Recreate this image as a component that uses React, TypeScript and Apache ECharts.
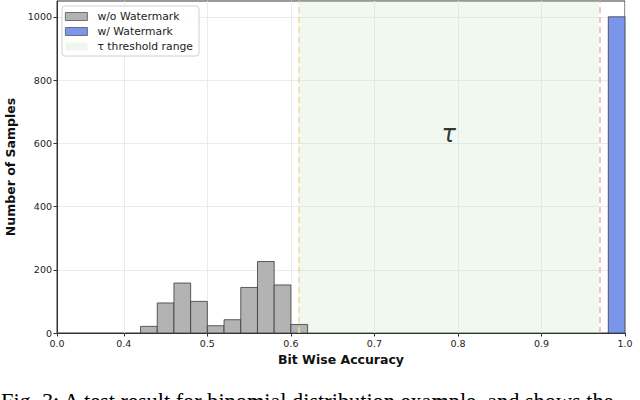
import React, { useEffect, useRef } from "react";
import * as echarts from "echarts";

const binStarts = [0.42, 0.44, 0.46, 0.48, 0.5, 0.52, 0.54, 0.56, 0.58, 0.6];
const binWidth = 0.02;
const woCounts = [21, 95, 158, 100, 23, 42, 144, 226, 152, 27];
const wBinStarts = [0.98];
const wCounts = [1000];
const tauLow = 0.609;
const tauHigh = 0.969;
const xTickValues = [0.32, 0.4, 0.5, 0.6, 0.7, 0.8, 0.9, 1.0];
const xTickLabels = ["0.0", "0.4", "0.5", "0.6", "0.7", "0.8", "0.9", "1.0"];
const yTickValues = [0, 200, 400, 600, 800, 1000];
const tauLabelY = 630;
const caption = "Fig. 3: A test result for binomial distribution example, and shows the";

function histRender(fill: string) {
  return (params: any, api: any) => {
    const x0 = api.value(0);
    const x1 = api.value(1);
    const h = api.value(2);
    const p0 = api.coord([x0, h]);
    const p1 = api.coord([x1, 0]);
    return {
      type: "rect",
      shape: { x: p0[0], y: p0[1], width: p1[0] - p0[0], height: p1[1] - p0[1] },
      style: { fill, stroke: "#3a3a3a", lineWidth: 0.8 },
    };
  };
}

export default function App() {
  const ref = useRef<HTMLDivElement>(null);
  useEffect(() => {
    if (!ref.current) return;
    const chart = echarts.init(ref.current, null, { renderer: "svg" });
    const gray = "#b3b3b3";
    const blue = "#7a96ea";
    const green = "rgba(200,230,200,0.27)";
    const font = "DejaVu Sans";
    chart.setOption({
      animation: false,
      textStyle: { fontFamily: font },
      grid: {
        left: 57,
        right: 15,
        top: 1,
        bottom: 67,
        outerBoundsMode: "none",
        containLabel: false,
        show: true,
        borderColor: "#333",
        borderWidth: 1,
        backgroundColor: "transparent",
      },
      legend: {
        orient: "vertical",
        left: 62,
        top: 6,
        itemWidth: 22,
        itemHeight: 8,
        itemGap: 4,
        padding: [5, 6, 4, 3],
        borderColor: "#d0d0d0",
        borderWidth: 1,
        borderRadius: 3,
        backgroundColor: "rgba(255,255,255,0.85)",
        textStyle: { fontFamily: font, fontSize: 10.8, color: "#222", padding: [0, 0, 0, 5] },
        data: [
          { name: "w/o Watermark", icon: "rect", itemStyle: { color: gray, borderColor: "#555", borderWidth: 0.8 } },
          { name: "w/ Watermark", icon: "rect", itemStyle: { color: blue, borderColor: "#555", borderWidth: 0.8 } },
          { name: "τ threshold range", icon: "rect", itemStyle: { color: "#eef7ee", borderWidth: 0 } },
        ],
      },
      xAxis: {
        type: "value",
        min: 0.32,
        max: 1.0,
        name: "Bit Wise Accuracy",
        nameLocation: "middle",
        nameGap: 19,
        nameTextStyle: { fontFamily: font, fontSize: 12.5, fontWeight: "bold", color: "#111" },
        axisLine: { show: true, onZero: false, lineStyle: { color: "#333", width: 1 } },
        axisTick: { show: true, length: 3.5, customValues: xTickValues, lineStyle: { color: "#333" } },
        axisLabel: {
          customValues: xTickValues,
          fontSize: 9.5,
          color: "#222",
          margin: 5,
          formatter: (v: number) => {
            const i = xTickValues.findIndex((t) => Math.abs(t - v) < 1e-6);
            return i >= 0 ? xTickLabels[i] : "";
          },
        },
        splitLine: { show: true, lineStyle: { color: "#ebebeb", width: 1 } },
      },
      yAxis: {
        type: "value",
        min: 0,
        max: 1050,
        name: "Number of Samples",
        nameLocation: "middle",
        nameGap: 31,
        nameTextStyle: { fontFamily: font, fontSize: 12.5, fontWeight: "bold", color: "#111" },
        axisLine: { show: true, lineStyle: { color: "#333", width: 1 } },
        axisTick: { show: true, length: 3.5, customValues: yTickValues, lineStyle: { color: "#333" } },
        axisLabel: {
          customValues: yTickValues,
          fontSize: 9.5,
          color: "#222",
          margin: 5,
          formatter: (v: number) => String(v),
        },
        splitLine: { show: true, lineStyle: { color: "#ebebeb", width: 1 } },
      },
      series: [
        {
          name: "τ threshold range",
          type: "line",
          data: [],
          itemStyle: { color: "#eef7ee" },
          markArea: {
            silent: true,
            itemStyle: { color: green },
            data: [[{ xAxis: tauLow }, { xAxis: tauHigh }]],
          },
          markLine: {
            silent: true,
            symbol: "none",
            label: { show: false },
            data: [
              { xAxis: tauLow, lineStyle: { color: "#f3d9a6", type: [6, 4], width: 1.6 } },
              { xAxis: tauHigh, lineStyle: { color: "#f2b3b3", type: [6, 4], width: 1.6 } },
            ],
          },
        },
        {
          name: "w/o Watermark",
          type: "custom",
          renderItem: histRender(gray),
          itemStyle: { color: gray },
          encode: { x: [0, 1], y: 2 },
          data: binStarts.map((s, i) => [s, +(s + binWidth).toFixed(2), woCounts[i]]),
          z: 3,
        },
        {
          name: "w/ Watermark",
          type: "custom",
          renderItem: histRender(blue),
          itemStyle: { color: blue },
          encode: { x: [0, 1], y: 2 },
          data: wBinStarts.map((s, i) => [s, +(s + binWidth).toFixed(2), wCounts[i]]),
          z: 3,
        },
        {
          name: "tau",
          type: "scatter",
          symbolSize: 0,
          data: [[(tauLow + tauHigh) / 2, tauLabelY]],
          label: {
            show: true,
            position: "inside",
            formatter: "τ",
            fontFamily: font,
            fontStyle: "italic",
            fontSize: 24,
            color: "#000",
          },
          silent: true,
          z: 4,
        },
      ],
      graphic: [
        {
          type: "text",
          left: 1,
          top: 390,
          style: {
            text: caption,
            fontFamily: "Liberation Serif",
            fontSize: 22.3,
            fill: "#000",
          },
        },
      ],
    });
    return () => chart.dispose();
  }, []);
  return <div ref={ref} style={{ position: "absolute", left: 0, top: 0, width: 640, height: 400 }} />;
}
